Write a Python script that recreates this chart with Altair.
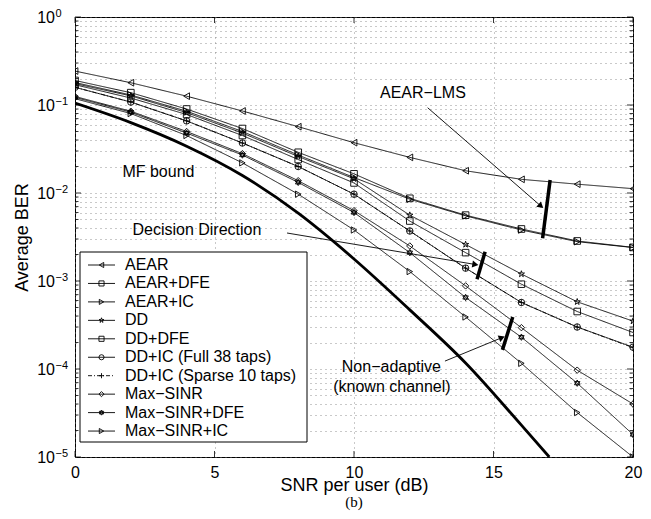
import altair as alt
import pandas as pd

FONT = "Liberation Sans"

snr = [0, 2, 4, 6, 8, 10, 12, 14, 16, 18, 20]
series_names = ["AEAR", "AEAR+DFE", "AEAR+IC", "DD", "DD+DFE",
                "DD+IC (Full 38 taps)", "DD+IC (Sparse 10 taps)",
                "Max\u2212SINR", "Max\u2212SINR+DFE", "Max\u2212SINR+IC"]

aear        = [0.243, 0.179, 0.126, 0.0855, 0.0567, 0.0373, 0.0254, 0.0179, 0.0143, 0.0126, 0.0112]
aear_dfe    = [0.19, 0.138, 0.090, 0.054, 0.029, 0.0165, 0.0087, 0.0056, 0.0039, 0.00285, 0.00241]
aear_ic     = [0.18, 0.130, 0.085, 0.050, 0.027, 0.0150, 0.0085, 0.0055, 0.0038, 0.0028, 0.0024]
dd          = [0.175, 0.127, 0.082, 0.048, 0.026, 0.0145, 0.0056, 0.0026, 0.0012, 0.00058, 0.00035]
dd_dfe      = [0.17, 0.120, 0.078, 0.045, 0.024, 0.0130, 0.0048, 0.0021, 0.00092, 0.00045, 0.00026]
dd_ic_full  = [0.159, 0.108, 0.066, 0.037, 0.020, 0.0097, 0.0037, 0.0014, 0.00057, 0.00030, 0.000177]
dd_ic_sparse= [0.159, 0.108, 0.066, 0.037, 0.020, 0.0097, 0.0037, 0.0014, 0.00057, 0.00030, 0.000175]
maxsinr     = [0.125, 0.085, 0.050, 0.028, 0.0138, 0.0063, 0.0025, 0.00088, 0.000295, 0.000097, 0.000040]
maxsinr_dfe = [0.122, 0.083, 0.048, 0.027, 0.0132, 0.0060, 0.0021, 0.00065, 0.00023, 0.000069, 0.000018]
maxsinr_ic  = [0.118, 0.080, 0.045, 0.022, 0.0097, 0.0038, 0.00128, 0.00039, 0.000116, 0.000032, 0.000010]

mf_snr = [0, 2, 4, 6, 8, 10, 12, 14, 16, 17]
mf_ber = [0.105, 0.063, 0.034, 0.0158, 0.0059, 0.00178, 0.00047, 0.000117, 0.000023, 0.00001]

all_series = [aear, aear_dfe, aear_ic, dd, dd_dfe, dd_ic_full, dd_ic_sparse,
              maxsinr, maxsinr_dfe, maxsinr_ic]

STAR = ("M0,-1L0.2245,-0.309L0.951,-0.309L0.363,0.118L0.588,0.809L0,0.382"
        "L-0.588,0.809L-0.363,0.118L-0.951,-0.309L-0.2245,-0.309Z")
HEXA = "M0,-1L0.866,0.5L-0.866,0.5Z M0,1L-0.866,-0.5L0.866,-0.5Z"
PLUS = "M-1,0L1,0M0,-1L0,1"
shapes = ["triangle-left", "square", "triangle-right", STAR, "square",
          "circle", PLUS, "diamond", HEXA, "triangle-right"]
marker_sizes = [45, 40, 45, 80, 40, 45, 60, 50, 80, 45]
dashes = [[1, 0]] * 6 + [[4, 2, 1, 2]] + [[1, 0]] * 3

y_major = [1, 0.1, 0.01, 0.001, 0.0001, 0.00001]
y_exp = ["0", "\u22121", "\u22122", "\u22123", "\u22124", "\u22125"]
y_minor = [k * 10.0 ** e for e in range(-5, 0) for k in range(2, 10)]
x_ticks = [0, 5, 10, 15, 20]

ann_text = ["AEAR\u2212LMS", "MF bound", "Decision Direction", "Non\u2212adaptive", "(known channel)"]
ann_x = [12.47, 2.99, 4.37, 11.34, 11.36]
ann_y = [0.137, 0.0174, 0.0038, 1.05e-4, 6.2e-5]

arrow_x1 = [12.64, 7.60, 13.26]
arrow_y1 = [0.0931, 0.00351, 1.23e-4]
arrow_x2 = [16.70, 14.35, 15.30]
arrow_y2 = [0.0071, 0.00154, 2.27e-4]
arrow_ang = [41, 9.5, 338]

bar_x1 = [17.03, 14.70, 15.69]
bar_y1 = [0.01406, 0.00215, 3.9e-4]
bar_x2 = [16.76, 14.41, 15.32]
bar_y2 = [0.00306, 0.00105, 1.65e-4]

W, H = 558, 440

rows = []
for name, vals in zip(series_names, all_series):
    for s, b in zip(snr, vals):
        rows.append({"series": name, "snr": s, "ber": b})
df = pd.DataFrame(rows)
mf_df = pd.DataFrame({"snr": mf_snr, "ber": mf_ber})

xscale = alt.Scale(domain=[0, 20], nice=False, zero=False)
yscale = alt.Scale(type="log", domain=[1e-5, 1], nice=False)
shape_scale = alt.Scale(domain=series_names, range=shapes)
dash_scale = alt.Scale(domain=series_names, range=dashes)
size_scale = alt.Scale(domain=series_names, range=marker_sizes)

x_axis = alt.Axis(values=x_ticks, grid=True, gridDash=[1, 4], gridColor="#777",
                  gridWidth=0.8, ticks=False, domain=False, labelFlush=False,
                  labelFontSize=16, labelFont=FONT, labelColor="black", labelPadding=7,
                  title="SNR per user (dB)", titleFontSize=18, titleFont=FONT,
                  titleFontWeight="normal", titleColor="black", titleY=19,
                  titleBaseline="top")
y_axis = alt.Axis(values=y_major + y_minor, grid=True, gridDash=[1, 4], gridColor="#777",
                  gridWidth=0.8, ticks=False, domain=False, labels=False,
                  title="Average BER", titleFontSize=18, titleFont=FONT,
                  titleFontWeight="normal", titleColor="black", titleX=-53,
                  titleY=220, titleBaseline="middle", titleAlign="center", titleAngle=-90)


def X(field):
    return alt.X(field, scale=xscale, axis=x_axis)


def Y(field):
    return alt.Y(field, scale=yscale, axis=y_axis)


lines = alt.Chart(df).mark_line(color="black", strokeWidth=0.9, clip=True).encode(
    x=X("snr:Q"), y=Y("ber:Q"),
    detail="series:N",
    strokeDash=alt.StrokeDash("series:N", scale=dash_scale, legend=None),
    order="snr:Q",
)
points = alt.Chart(df).mark_point(color="black", filled=False,
                                  strokeWidth=0.9, opacity=1, clip=True).encode(
    x=X("snr:Q"), y=Y("ber:Q"),
    shape=alt.Shape("series:N", scale=shape_scale, legend=None),
    size=alt.Size("series:N", scale=size_scale, legend=None),
)
mf = alt.Chart(mf_df).mark_line(color="black", strokeWidth=2.8, interpolate="monotone",
                                clip=True).encode(x=X("snr:Q"), y=Y("ber:Q"))

# y tick labels (10 with superscript exponent)
ylab_df = pd.DataFrame({"ber": y_major, "exp": y_exp})
ylab_base = alt.Chart(ylab_df).mark_text(text="10", align="right", baseline="middle",
                                         fontSize=16, font=FONT, dy=1, color="black").encode(
    x=alt.value(-20), y=Y("ber:Q"))
ylab_exp = alt.Chart(ylab_df).mark_text(align="left", baseline="middle", fontSize=11,
                                        font=FONT, dy=-3, dx=0.5, color="black").encode(
    x=alt.value(-20), y=Y("ber:Q"), text="exp:N")

# inward ticks
maj_df = pd.DataFrame({"ber": y_major})
min_df = pd.DataFrame({"ber": y_minor})
xt_df = pd.DataFrame({"snr": x_ticks})
tick_layers = []
for d, ln in [(maj_df, 6), (min_df, 3.5)]:
    tick_layers.append(alt.Chart(d).mark_rule(color="black", strokeWidth=0.8).encode(
        y=Y("ber:Q"), x=alt.value(0), x2=alt.value(ln)))
    tick_layers.append(alt.Chart(d).mark_rule(color="black", strokeWidth=0.8).encode(
        y=Y("ber:Q"), x=alt.value(W - ln), x2=alt.value(W)))
tick_layers.append(alt.Chart(xt_df).mark_rule(color="black", strokeWidth=0.8).encode(
    x=X("snr:Q"), y=alt.value(H), y2=alt.value(H - 6)))
tick_layers.append(alt.Chart(xt_df).mark_rule(color="black", strokeWidth=0.8).encode(
    x=X("snr:Q"), y=alt.value(0), y2=alt.value(6)))

# annotations
ann_df = pd.DataFrame({"snr": ann_x, "ber": ann_y, "label": ann_text})
ann = alt.Chart(ann_df).mark_text(fontSize=16, font=FONT, color="black",
                                  align="center", baseline="middle").encode(
    x=X("snr:Q"), y=Y("ber:Q"), text="label:N")
arr_df = pd.DataFrame({"snr": arrow_x1, "ber": arrow_y1, "snr2": arrow_x2,
                       "ber2": arrow_y2, "ang": arrow_ang})
arrows = alt.Chart(arr_df).mark_rule(color="black", strokeWidth=0.9).encode(
    x=X("snr:Q"), x2="snr2:Q", y=Y("ber:Q"), y2="ber2:Q")
heads = alt.Chart(arr_df).mark_point(shape="triangle-right", filled=True, color="black",
                                     size=50, opacity=1).encode(
    x=X("snr2:Q"), y=Y("ber2:Q"),
    angle=alt.Angle("ang:Q", scale=None))
bar_df = pd.DataFrame({"snr": bar_x1, "ber": bar_y1, "snr2": bar_x2, "ber2": bar_y2})
bars = alt.Chart(bar_df).mark_rule(color="black", strokeWidth=3.5).encode(
    x=X("snr:Q"), x2="snr2:Q", y=Y("ber:Q"), y2="ber2:Q")

# legend (drawn manually)
leg_df = pd.DataFrame({"series": series_names, "idx": list(range(len(series_names)))})
leg_box = alt.Chart(pd.DataFrame({"a": [0]})).mark_rect(
    fill="white", stroke="black", strokeWidth=1).encode(
    x=alt.value(5), x2=alt.value(232), y=alt.value(235), y2=alt.value(425))
leg_base = alt.Chart(leg_df).transform_calculate(ly="248 + datum.idx * 18.45")
leg_lines = leg_base.mark_rule(color="black", strokeWidth=0.9).encode(
    x=alt.value(13), x2=alt.value(40),
    y=alt.Y("ly:Q", scale=None),
    strokeDash=alt.StrokeDash("series:N", scale=dash_scale, legend=None))
leg_pts = leg_base.mark_point(color="black", filled=False, strokeWidth=0.9,
                              opacity=1).encode(
    x=alt.value(26.5), y=alt.Y("ly:Q", scale=None),
    shape=alt.Shape("series:N", scale=shape_scale, legend=None),
    size=alt.value(26))
leg_txt = leg_base.mark_text(align="left", baseline="middle", fontSize=16, font=FONT,
                             color="black").encode(
    x=alt.value(50), y=alt.Y("ly:Q", scale=None), text="series:N")

sub = alt.Chart(pd.DataFrame({"a": [0]})).mark_text(
    text="(b)", font="Liberation Serif", fontSize=15, color="black",
    align="center", baseline="middle").encode(x=alt.value(279), y=alt.value(H + 45))

chart = alt.layer(
    lines, points, mf, *tick_layers, ylab_base, ylab_exp,
    arrows, heads, bars, ann,
    leg_box, leg_lines, leg_pts, leg_txt, sub,
).properties(
    width=W, height=H,
    padding={"left": 67, "top": 9, "right": 10, "bottom": 54},
    autosize=alt.AutoSizeParams(type="none"),
    background="white",
).configure_view(stroke="black", strokeWidth=1)

chart.save("out.html", embed_options={"renderer": "svg", "actions": False})
